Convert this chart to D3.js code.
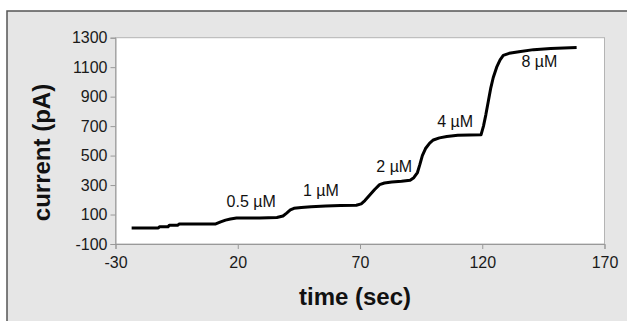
<!DOCTYPE html>
<html>
<head>
<meta charset="utf-8">
<script src="https://cdn.jsdelivr.net/npm/d3@7"></script>
<style>
html,body{margin:0;padding:0;background:#fff;}
svg{display:block;}
text{font-family:"Liberation Sans",Arial,Helvetica,sans-serif;}
</style>
</head>
<body>
<svg id="chart" width="627" height="321"></svg>
<script>
// ---- data ----
const timeSec = [-23.4,-12.5,-12,-8.5,-8,-4.5,-4,11,13,15,17,19.5,29,36,38.5,40,41.5,43,46,50,56,62,68.5,70.5,72,74,76,78,80,83,87,90.5,92,93.5,94.5,95.5,96.8,98.5,100,102.5,105.5,110,119.5,120.5,121.5,122.5,123.5,124.5,125.9,127.3,128.6,131,135,141,148,158.6];
const currentPA = [8,8,17,17,27,27,36,36,50,62,70,76,77,80,90,110,131,142,148,153,158,162,163,172,195,232,270,303,314,320,326,333,350,385,440,500,548,585,606,620,630,638,641,700,780,870,960,1030,1100,1150,1180,1194,1205,1219,1226,1233];
const labelText = ["0.5 \u00b5M","1 \u00b5M","2 \u00b5M","4 \u00b5M","8 \u00b5M"];
const labelTime = [25.5,54,84,108.9,143.4];
const labelCurrent = [151,225,391,692,1099];
const xTicks = [-30,20,70,120,170];
const yTicks = [-100,100,300,500,700,900,1100,1300];

const svg = d3.select("#chart");
// outer frame
svg.append("rect").attr("x",7).attr("y",11).attr("width",640).attr("height",340)
  .attr("fill","#e6e6e6").attr("stroke","#555").attr("stroke-width",1.5);

const m = {left:115.5, right:604.5, top:37.7, bottom:244};
const x = d3.scaleLinear().domain([-30,170]).range([m.left,m.right]);
const y = d3.scaleLinear().domain([-100,1300]).range([m.bottom,m.top]);

svg.append("rect").attr("x",m.left).attr("y",m.top)
  .attr("width",m.right-m.left).attr("height",m.bottom-m.top)
  .attr("fill","#fff").attr("stroke","#b4b4b4").attr("stroke-width",1);

const fmt = d => String(d);
const xAxis = svg.append("g").attr("transform",`translate(0,${m.bottom})`)
  .call(d3.axisBottom(x).tickValues(xTicks).tickSize(5).tickPadding(8).tickFormat(fmt));
const yAxis = svg.append("g").attr("transform",`translate(${m.left},0)`)
  .call(d3.axisLeft(y).tickValues(yTicks).tickSize(5).tickPadding(3).tickFormat(fmt));
[xAxis,yAxis].forEach(a=>{
  a.select(".domain").attr("stroke","#999");
  a.selectAll(".tick line").attr("stroke","#999");
  a.selectAll(".tick text").attr("fill","#1a1a1a").style("font-size","16px")
   .style("font-family","'Liberation Sans',Arial,sans-serif");
});

const pts = timeSec.map((t,i)=>[t,currentPA[i]]);
svg.append("path").datum(pts)
  .attr("d", d3.line().x(d=>x(d[0])).y(d=>y(d[1])))
  .attr("fill","none").attr("stroke","#000").attr("stroke-width",3)
  .attr("stroke-linejoin","round").attr("stroke-linecap","butt");

svg.selectAll("text.lab").data(labelText).enter().append("text")
  .attr("class","lab")
  .attr("x",(d,i)=>x(labelTime[i])).attr("y",(d,i)=>y(labelCurrent[i]))
  .attr("text-anchor","middle").attr("fill","#111")
  .style("font-size","16px").text(d=>d);

svg.append("text").attr("x",355).attr("y",305).attr("text-anchor","middle")
  .style("font-size","24px").style("font-weight","bold").attr("fill","#111").text("time (sec)");
svg.append("text").attr("transform","translate(50,152.5) rotate(-90)").attr("text-anchor","middle")
  .style("font-size","24px").style("font-weight","bold").attr("fill","#111").text("current (pA)");
</script>
</body>
</html>
